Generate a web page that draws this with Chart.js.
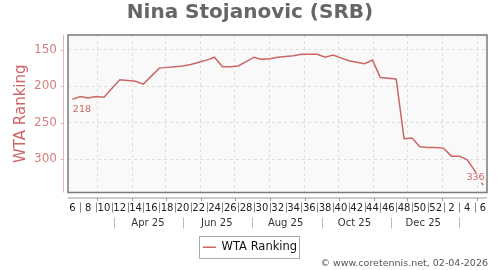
<!DOCTYPE html>
<html>
<head>
<meta charset="utf-8">
<title>Nina Stojanovic (SRB)</title>
<script src="https://cdn.jsdelivr.net/npm/chart.js@4.4.1/dist/chart.umd.min.js"></script>
<style>
  html, body { margin: 0; padding: 0; background: #fff; }
</style>
</head>
<body>
<canvas id="rank-chart" width="500" height="270"></canvas>
<script>
// #region Data
// ---------------------------------------
const playerName = "Nina Stojanovic (SRB)";
const seriesName = "WTA Ranking";
const footerText = "© www.coretennis.net, 02-04-2026";

// one point per week, week 6 of 2025 up to week 6 of 2026
const weekNums = [6, 7, 8, 9, 10, 11, 12, 13, 14, 15, 16, 17, 18, 19, 20, 21, 22, 23, 24, 25,
  26, 27, 28, 29, 30, 31, 32, 33, 34, 35, 36, 37, 38, 39, 40, 41, 42, 43, 44, 45, 46, 47, 48,
  49, 50, 51, 52, 1, 2, 3, 4, 5, 6];
const ranks = [218, 214, 216, 214, 215, 203, 191, 192, 193, 197, 186, 175, 174, 173, 172,
  170, 167, 164, 160, 173, 173, 172, 166, 160, 163, 162, 160, 159, 158, 156, 156, 156, 160,
  157, 161, 165, 167, 169, 164, 188, 189, 190, 272, 271, 283, 284, 284, 285, 296, 296, 301,
  317, 336];
const yTicks = [150, 200, 250, 300];
const monthLabels = ["Apr 25", "Jun 25", "Aug 25", "Oct 25", "Dec 25"];
// ---------------------------------------
// #endregion

// week index from a date (first point is Fri 7 Feb 2025)
const toIdx = (y, m, d) => (Date.UTC(y, m, d) - Date.UTC(2025, 1, 7)) / (7 * 864e5);
const monthStarts = [];
for (let k = 0; k < 12; k++) monthStarts.push(toIdx(2025, 2 + k, 1));
const monthMids = monthLabels.map((l, i) => toIdx(2025, 3 + 2 * i, 15));
const monthSeps = [];
for (let k = 0; k < 6; k++) monthSeps.push(toIdx(2025, 2 + 2 * k, 16));

const lineColor = "rgb(204,102,102)";
Chart.defaults.font.family = "'DejaVu Sans', sans-serif";

const decor = {
  id: "decor",
  beforeDraw(chart) {
    const { ctx, chartArea: a } = chart;
    ctx.save();
    ctx.fillStyle = "#f9f9f9";
    ctx.fillRect(a.left, a.top, a.right - a.left, a.bottom - a.top);
    ctx.restore();
  },
  afterDraw(chart) {
    const { ctx, chartArea: a, scales } = chart;
    const x = scales.x;
    const y = scales.y;
    const line = (x1, y1, x2, y2) => {
      ctx.beginPath();
      ctx.moveTo(x1, y1);
      ctx.lineTo(x2, y2);
      ctx.stroke();
    };
    ctx.save();

    // frame round the plot
    ctx.strokeStyle = "#7a7a7a";
    ctx.lineWidth = 1.5;
    ctx.strokeRect(a.left, a.top, a.right - a.left, a.bottom - a.top);
    ctx.lineWidth = 1;

    // y axis, set off from the plot
    ctx.strokeStyle = "#e3b7b7";
    line(a.left - 4.5, a.top, a.left - 4.5, a.bottom);
    yTicks.forEach((v) => {
      const py = Math.round(y.getPixelForValue(v)) + 0.5;
      line(a.left - 7.5, py, a.left - 4.5, py);
    });

    // x axis, set off from the plot
    ctx.strokeStyle = "#9a9a9a";
    line(a.left, a.bottom + 5.5, a.right, a.bottom + 5.5);
    monthStarts.forEach((v) => {
      const px = Math.round(x.getPixelForValue(v)) + 0.5;
      line(px, a.bottom + 5.5, px, a.bottom + 8.5);
    });
    ctx.strokeStyle = "#888";
    weekNums.forEach((w, i) => {
      if (i % 2 === 1) {
        const px = Math.round(x.getPixelForValue(i)) + 0.5;
        line(px, a.bottom + 10, px, a.bottom + 20);
      }
    });
    ctx.strokeStyle = "#bbb";
    monthSeps.forEach((v) => {
      const px = Math.round(x.getPixelForValue(v)) + 0.5;
      line(px, a.bottom + 25, px, a.bottom + 36);
    });

    // first and last value
    const pts = chart.getDatasetMeta(0).data;
    const first = pts[0];
    const last = pts[pts.length - 1];
    ctx.font = "9.5px 'DejaVu Sans'";
    ctx.textBaseline = "middle";
    ctx.fillStyle = lineColor;
    ctx.textAlign = "left";
    ctx.fillText(String(ranks[0]), first.x + 0.5, first.y + 10);
    const lastTxt = String(ranks[ranks.length - 1]);
    const tw = ctx.measureText(lastTxt).width;
    ctx.fillStyle = "#f9f9f9";
    ctx.fillRect(last.x + 1.5 - tw - 1, last.y - 12.5, tw + 2, 10);
    ctx.fillStyle = lineColor;
    ctx.textAlign = "right";
    ctx.fillText(lastTxt, last.x + 1.5, last.y - 7.5);

    // legend frame
    const hb = chart.legend.legendHitBoxes[0];
    if (hb) {
      ctx.strokeStyle = "#aaa";
      const cy = hb.top + hb.height / 2;
      ctx.strokeRect(Math.round(hb.left - 4) + 0.5, Math.round(cy - 11) + 0.5, Math.round(hb.width + 6), 22);
    }

    // footer
    ctx.font = "9.5px 'DejaVu Sans'";
    ctx.fillStyle = "#555";
    ctx.textAlign = "right";
    ctx.fillText(footerText, 488, 264);
    ctx.restore();
  },
};

new Chart(document.getElementById("rank-chart"), {
  type: "line",
  data: {
    datasets: [
      {
        label: seriesName,
        data: ranks.map((r, i) => ({ x: i, y: r })),
        borderColor: lineColor,
        backgroundColor: lineColor,
        borderWidth: 1.5,
        pointRadius: 0,
        tension: 0,
        fill: false,
      },
    ],
  },
  options: {
    responsive: false,
    animation: false,
    layout: { padding: { top: 0, left: 0, right: 0, bottom: 7 } },
    scales: {
      x: {
        type: "linear",
        position: "bottom",
        weight: 0,
        min: -0.55,
        max: 52.5,
        afterBuildTicks: (axis) => {
          axis.ticks = weekNums.map((w, i) => ({ value: i })).filter((t) => t.value % 2 === 0);
        },
        afterFit: (scale) => { scale.height = 22; },
        ticks: {
          autoSkip: false,
          maxRotation: 0,
          padding: 9.5,
          color: "#222",
          font: { size: 10 },
          callback: (v) => String(weekNums[v]),
        },
        grid: { display: false, drawTicks: false },
        border: { display: false },
      },
      m: {
        type: "linear",
        position: "bottom",
        weight: 1,
        min: -0.55,
        max: 52.5,
        afterBuildTicks: (axis) => {
          axis.ticks = monthMids.map((v) => ({ value: v }));
        },
        afterFit: (scale) => { scale.height = 19; },
        ticks: {
          autoSkip: false,
          maxRotation: 0,
          padding: 2.6,
          color: "#333",
          font: { size: 10 },
          callback: (v, i) => monthLabels[i],
        },
        grid: { display: false, drawTicks: false },
        border: { display: false },
      },
      g: {
        type: "linear",
        position: "top",
        min: -0.55,
        max: 52.5,
        afterBuildTicks: (axis) => {
          axis.ticks = monthStarts.map((v) => ({ value: v }));
        },
        afterFit: (scale) => { scale.height = 0; },
        ticks: { display: false },
        grid: { color: "#dddddd", drawTicks: false },
        border: { display: false, dash: [3, 3] },
      },
      y: {
        reverse: true,
        min: 129.5,
        max: 346,
        afterBuildTicks: (axis) => {
          axis.ticks = yTicks.map((v) => ({ value: v }));
        },
        afterFit: (scale) => { scale.width = 68; },
        ticks: {
          padding: 11,
          color: "rgb(212,128,128)",
          font: { size: 12 },
        },
        grid: { color: "#dddddd", drawTicks: false },
        border: { display: false, dash: [3, 3] },
        title: {
          display: true,
          text: seriesName,
          color: "rgb(204,100,100)",
          font: { size: 15 },
          padding: { top: 12, bottom: 0 },
        },
      },
      r: {
        type: "linear",
        position: "right",
        afterFit: (scale) => { scale.width = 13; },
        ticks: { display: false },
        grid: { display: false, drawTicks: false },
        border: { display: false },
      },
    },
    plugins: {
      title: {
        display: true,
        text: playerName,
        color: "#666",
        font: { size: 20, weight: "bold" },
        padding: { top: 1, bottom: 10 },
      },
      legend: {
        position: "bottom",
        labels: {
          boxWidth: 13,
          boxHeight: 0,
          padding: 8,
          color: "#111",
          font: { size: 11.5 },
        },
      },
      tooltip: { enabled: false },
    },
  },
  plugins: [decor],
});
</script>
</body>
</html>
